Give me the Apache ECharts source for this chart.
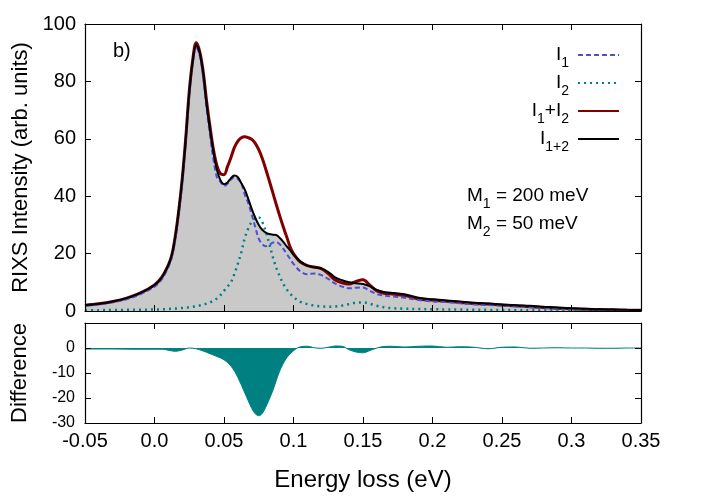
<!DOCTYPE html>
<html>
<head>
    <meta charset="UTF-8">
    <title>RIXS b)</title>
    <script src="https://cdn.jsdelivr.net/npm/echarts@6/dist/echarts.min.js"></script>
    <style>
        html, body {margin: 0; padding: 0; background: #fff;}
        #main {width: 712px; height: 498px;}
    </style>
</head>
<body>
<div id="main"></div>
<script type="text/javascript">
    // energy grid of the upper panel (eV)
    var energy = [-0.05, -0.04, -0.03, -0.02, -0.01, 0, 0.005, 0.01, 0.0125, 0.015, 0.0175, 0.02, 0.0225, 0.025, 0.0275,
        0.03, 0.0325, 0.035, 0.0375, 0.04, 0.0425, 0.045, 0.0475, 0.05, 0.0525, 0.055, 0.0575, 0.06, 0.0625, 0.065,
        0.0675, 0.07, 0.0725, 0.075, 0.0775, 0.08, 0.0825, 0.085, 0.0875, 0.09, 0.0925, 0.095, 0.0975, 0.1, 0.105,
        0.11, 0.115, 0.12, 0.125, 0.13, 0.135, 0.14, 0.145, 0.15, 0.155, 0.16, 0.165, 0.17, 0.18, 0.19, 0.2, 0.21,
        0.22, 0.23, 0.24, 0.25, 0.26, 0.27, 0.28, 0.29, 0.3, 0.31, 0.32, 0.33, 0.34, 0.35];

    // I1+2 (black, also the grey fill)
    var i12 = [2.0, 2.5, 3.3, 4.5, 6.3, 9.0, 11.5, 16.0, 19.5, 26.0, 35.0, 46.0, 60.0, 76.0, 87.0,
        92.7, 90.0, 83.0, 72.0, 63.0, 55.0, 49.0, 45.5, 44.2, 44.8, 46.3, 47.2, 46.6, 44.5, 42.3,
        39.0, 35.5, 32.5, 30.0, 28.3, 27.3, 26.8, 26.6, 26.5, 25.5, 24.2, 22.6, 21.2, 19.6, 17.3,
        15.8, 15.2, 14.8, 13.6, 11.7, 10.7, 10.0, 9.7, 9.4, 8.6, 7.3, 6.6, 6.4, 5.8, 4.6, 4.1, 3.7,
        3.3, 2.9, 2.6, 2.3, 2.0, 1.8, 1.5, 1.2, 1.0, 0.8, 0.6, 0.5, 0.4, 0.35];

    // I1 + I2 (dark red)
    var iSum = [2.0, 2.5, 3.3, 4.5, 6.3, 9.1, 11.6, 16.1, 19.6, 26.2, 35.2, 46.3, 60.4, 76.5, 87.5,
        93.5, 90.5, 83.5, 73.0, 64.0, 56.0, 50.5, 47.8, 47.5, 50.3, 53.5, 57.0, 59.2, 60.4, 60.7,
        60.4, 59.8, 58.4, 56.2, 53.2, 49.5, 45.5, 41.4, 37.3, 33.3, 29.5, 26.0, 22.4, 20.0, 17.0,
        15.8, 15.3, 14.8, 13.0, 10.8, 9.8, 9.4, 10.3, 10.9, 9.0, 7.0, 6.2, 6.0, 5.4, 4.2, 3.8, 3.4,
        3.0, 2.6, 2.4, 2.1, 1.8, 1.5, 1.2, 1.0, 0.8, 0.6, 0.5, 0.4, 0.3, 0.3];

    // I1 (blue dashed)
    var i1 = [1.8, 2.3, 3.0, 4.1, 5.9, 8.5, 10.9, 15.3, 18.8, 25.3, 34.2, 45.0, 59.0, 75.0, 86.0,
        92.0, 89.0, 81.5, 70.5, 61.0, 52.5, 46.5, 45.0, 43.5, 44.3, 45.8, 46.6, 46.0, 44.4, 40.5,
        37.5, 33.5, 29.2, 25.2, 23.3, 22.6, 23.0, 23.8, 24.0, 23.3, 21.8, 20.0, 18.2, 16.4, 13.8,
        12.8, 13.1, 12.5, 11.2, 9.5, 8.5, 7.9, 8.1, 8.2, 7.0, 5.9, 5.4, 5.1, 4.6, 3.8, 3.3, 3.1,
        2.7, 2.3, 2.1, 1.9, 1.6, 1.4, 1.1, 0.9, 0.7, 0.6, 0.5, 0.4, 0.3, 0.3];

    // I2 (teal dotted)
    var i2 = [0.3, 0.3, 0.35, 0.4, 0.45, 0.5, 0.6, 0.7, 0.8, 0.85, 0.95, 1.05, 1.2, 1.3, 1.5,
        1.7, 1.9, 2.2, 2.6, 3.0, 3.6, 4.4, 5.5, 7.0, 8.5, 10.0, 13.0, 16.5, 20.5, 25.5,
        28.8, 31.2, 32.4, 32.6, 31.0, 27.8, 23.6, 19.0, 15.2, 12.2, 9.6, 7.6, 6.1, 4.9, 3.2,
        2.4, 1.9, 1.6, 1.5, 1.6, 1.9, 2.4, 2.9, 3.0, 2.5, 1.8, 1.3, 1.0, 0.8, 0.7, 0.6, 0.55,
        0.5, 0.45, 0.4, 0.35, 0.3, 0.3, 0.3, 0.25, 0.25, 0.2, 0.2, 0.2, 0.2, 0.2];

    // lower panel: difference
    var diffEnergy = [-0.05, -0.03, -0.01, 0, 0.006, 0.01, 0.015, 0.02, 0.025, 0.03, 0.035, 0.04, 0.045, 0.05,
        0.055, 0.06, 0.065, 0.07, 0.0725, 0.075, 0.0775, 0.08, 0.085, 0.09, 0.095, 0.1, 0.105, 0.11, 0.115,
        0.12, 0.125, 0.13, 0.135, 0.14, 0.145, 0.15, 0.155, 0.16, 0.165, 0.17, 0.18, 0.19, 0.2, 0.21, 0.22,
        0.23, 0.24, 0.25, 0.26, 0.27, 0.28, 0.29, 0.3, 0.31, 0.32, 0.33, 0.34, 0.35];
    var diff = [-0.4, -0.4, -0.5, -0.5, -0.5, -0.9, -1.3, -0.8, 0.0, -0.3, -1.2, -2.3, -3.4, -4.7,
        -7.2, -11.8, -18.0, -24.2, -26.3, -27.1, -26.2, -23.7, -17.2, -9.3, -4.0, -1.1, 0.5, 0.7, 0.1,
        -0.1, 0.3, 0.8, 0.7, -0.7, -1.6, -1.9, -1.0, 0.0, 0.6, 0.7, 0.4, 0.7, 0.8, 0.3, 0.5,
        0.3, -0.3, 0.3, 0.4, -0.1, 0.0, 0.1, 0.0, 0.0, -0.1, -0.1, 0.0, 0.0];

    var xTickLabels = ['-0.05', '0.0', '0.05', '0.1', '0.15', '0.2', '0.25', '0.3', '0.35'];

    function pairs(xs, ys) {
        var out = [];
        for (var i = 0; i < xs.length; i++) {
            out.push([xs[i], ys[i]]);
        }
        return out;
    }

    var FONT = 'Liberation Sans, Arial, sans-serif';
    var richText = {
        m: {fontSize: 19, fontFamily: FONT, color: '#000', lineHeight: 30},
        s: {fontSize: 14, fontFamily: FONT, color: '#000', lineHeight: 14, verticalAlign: 'bottom'},
        se: {fontSize: 14, fontFamily: FONT, color: '#000', lineHeight: 14, verticalAlign: 'bottom', padding: [0, 4, 0, 0]}
    };
    var legendText = {
        'I1': '{m|I}{se|1}',
        'I2': '{m|I}{se|2}',
        'I1+I2': '{m|I}{s|1}{m|+I}{se|2}',
        'I1+2': '{m|I}{se|1+2}'
    };

    function makeLegend(name, top) {
        return {
            data: [name],
            right: 92,
            top: top,
            padding: 0,
            orient: 'vertical',
            align: 'right',
            itemWidth: 41,
            itemHeight: 12,
            selectedMode: false,
            itemStyle: {opacity: 0},   // hide the marker, keep the line sample
            formatter: function (n) { return legendText[n]; },
            textStyle: {rich: richText}
        };
    }

    var axisLine = {show: true, onZero: false, lineStyle: {color: '#000', width: 1.2}};
    var tick = {show: true, inside: true, length: 6, lineStyle: {color: '#000', width: 1}};

    var chart = echarts.init(document.getElementById('main'));

    var option = {
        animation: false,
        backgroundColor: '#fff',
        grid: [
            {left: 85, top: 24, width: 556, height: 287},
            {left: 85, top: 323, width: 556, height: 100}
        ],
        legend: [
            makeLegend('I1', 45.5),
            makeLegend('I2', 73.5),
            makeLegend('I1+I2', 101.5),
            makeLegend('I1+2', 129.5)
        ],
        xAxis: [
            {gridIndex: 0, type: 'value', min: -0.05, max: 0.35, interval: 0.05, z: 10,
                axisLine: axisLine, axisTick: tick, axisLabel: {show: false}, splitLine: {show: false}},
            {gridIndex: 0, type: 'value', position: 'top', min: -0.05, max: 0.35, interval: 0.05, z: 10,
                axisLine: axisLine, axisTick: tick, axisLabel: {show: false}, splitLine: {show: false}},
            {gridIndex: 1, type: 'value', min: -0.05, max: 0.35, interval: 0.05, z: 10,
                axisLine: axisLine, axisTick: tick, splitLine: {show: false},
                axisLabel: {
                    fontSize: 20, fontFamily: FONT, color: '#000', margin: 8,
                    formatter: function (v) { return xTickLabels[Math.round((v + 0.05) / 0.05)]; }
                },
                name: 'Energy loss (eV)', nameLocation: 'middle', nameGap: 45,
                nameTextStyle: {fontSize: 24, fontFamily: FONT, color: '#000'}},
            {gridIndex: 1, type: 'value', position: 'top', min: -0.05, max: 0.35, interval: 0.05, z: 10,
                axisLine: axisLine, axisTick: tick, axisLabel: {show: false}, splitLine: {show: false}}
        ],
        yAxis: [
            {gridIndex: 0, type: 'value', min: 0, max: 100, interval: 20, z: 10,
                axisLine: axisLine, axisTick: tick, splitLine: {show: false},
                axisLabel: {fontSize: 20, fontFamily: FONT, color: '#000', margin: 9},
                name: 'RIXS Intensity (arb. units)', nameLocation: 'middle', nameGap: 52,
                nameTextStyle: {fontSize: 22, fontFamily: FONT, color: '#000'}},
            {gridIndex: 0, type: 'value', position: 'right', min: 0, max: 100, interval: 20, z: 10,
                axisLine: axisLine, axisTick: tick, axisLabel: {show: false}, splitLine: {show: false}},
            {gridIndex: 1, type: 'value', min: -30, max: 10, interval: 10, z: 10,
                axisLine: axisLine, axisTick: tick, splitLine: {show: false},
                axisLabel: {
                    fontSize: 16, fontFamily: FONT, color: '#000', margin: 10,
                    formatter: function (v) { return v > 5 ? '' : String(v); }
                },
                name: 'Difference', nameLocation: 'middle', nameGap: 54,
                nameTextStyle: {fontSize: 22, fontFamily: FONT, color: '#000'}},
            {gridIndex: 1, type: 'value', position: 'right', min: -30, max: 10, interval: 10, z: 10,
                axisLine: axisLine, axisTick: tick, axisLabel: {show: false}, splitLine: {show: false}}
        ],
        graphic: [
            {type: 'text', left: 113, top: 41, silent: true,
                style: {text: 'b)', fontSize: 20, fontFamily: FONT, fill: '#000'}},
            {type: 'text', x: 467, y: 196, silent: true,
                style: {text: '{m|M}{s|1}{m| = 200 meV}', verticalAlign: 'middle', rich: richText}},
            {type: 'text', x: 467, y: 224, silent: true,
                style: {text: '{m|M}{s|2}{m| = 50 meV}', verticalAlign: 'middle', rich: richText}}
        ],
        series: [
            {type: 'line', name: 'fill', xAxisIndex: 0, yAxisIndex: 0, data: pairs(energy, i12),
                smooth: 0.35, symbol: 'none', silent: true, z: 1,
                lineStyle: {width: 0}, areaStyle: {color: '#c9c9c9', opacity: 1}},
            {type: 'line', name: 'I1+I2', xAxisIndex: 0, yAxisIndex: 0, data: pairs(energy, iSum),
                smooth: 0.35, symbol: 'none', z: 3,
                lineStyle: {color: '#800000', width: 3}, itemStyle: {color: '#800000'}},
            {type: 'line', name: 'I1', xAxisIndex: 0, yAxisIndex: 0, data: pairs(energy, i1),
                smooth: 0.35, symbol: 'none', z: 4,
                lineStyle: {color: '#4f4fd2', width: 2, type: [5, 3]}, itemStyle: {color: '#4f4fd2'}},
            {type: 'line', name: 'I2', xAxisIndex: 0, yAxisIndex: 0, data: pairs(energy, i2),
                smooth: 0.35, symbol: 'none', z: 5,
                lineStyle: {color: '#008080', width: 2.5, type: [2, 4]}, itemStyle: {color: '#008080'}},
            {type: 'line', name: 'I1+2', xAxisIndex: 0, yAxisIndex: 0, data: pairs(energy, i12),
                smooth: 0.35, symbol: 'none', z: 6,
                lineStyle: {color: '#000', width: 2}, itemStyle: {color: '#000'}},
            {type: 'line', name: 'diff', xAxisIndex: 2, yAxisIndex: 2, data: pairs(diffEnergy, diff),
                smooth: 0.35, symbol: 'none', silent: true, z: 2,
                lineStyle: {color: '#008080', width: 1}, areaStyle: {color: '#008080', opacity: 1}}
        ]
    };

    chart.setOption(option);
</script>
</body>
</html>
